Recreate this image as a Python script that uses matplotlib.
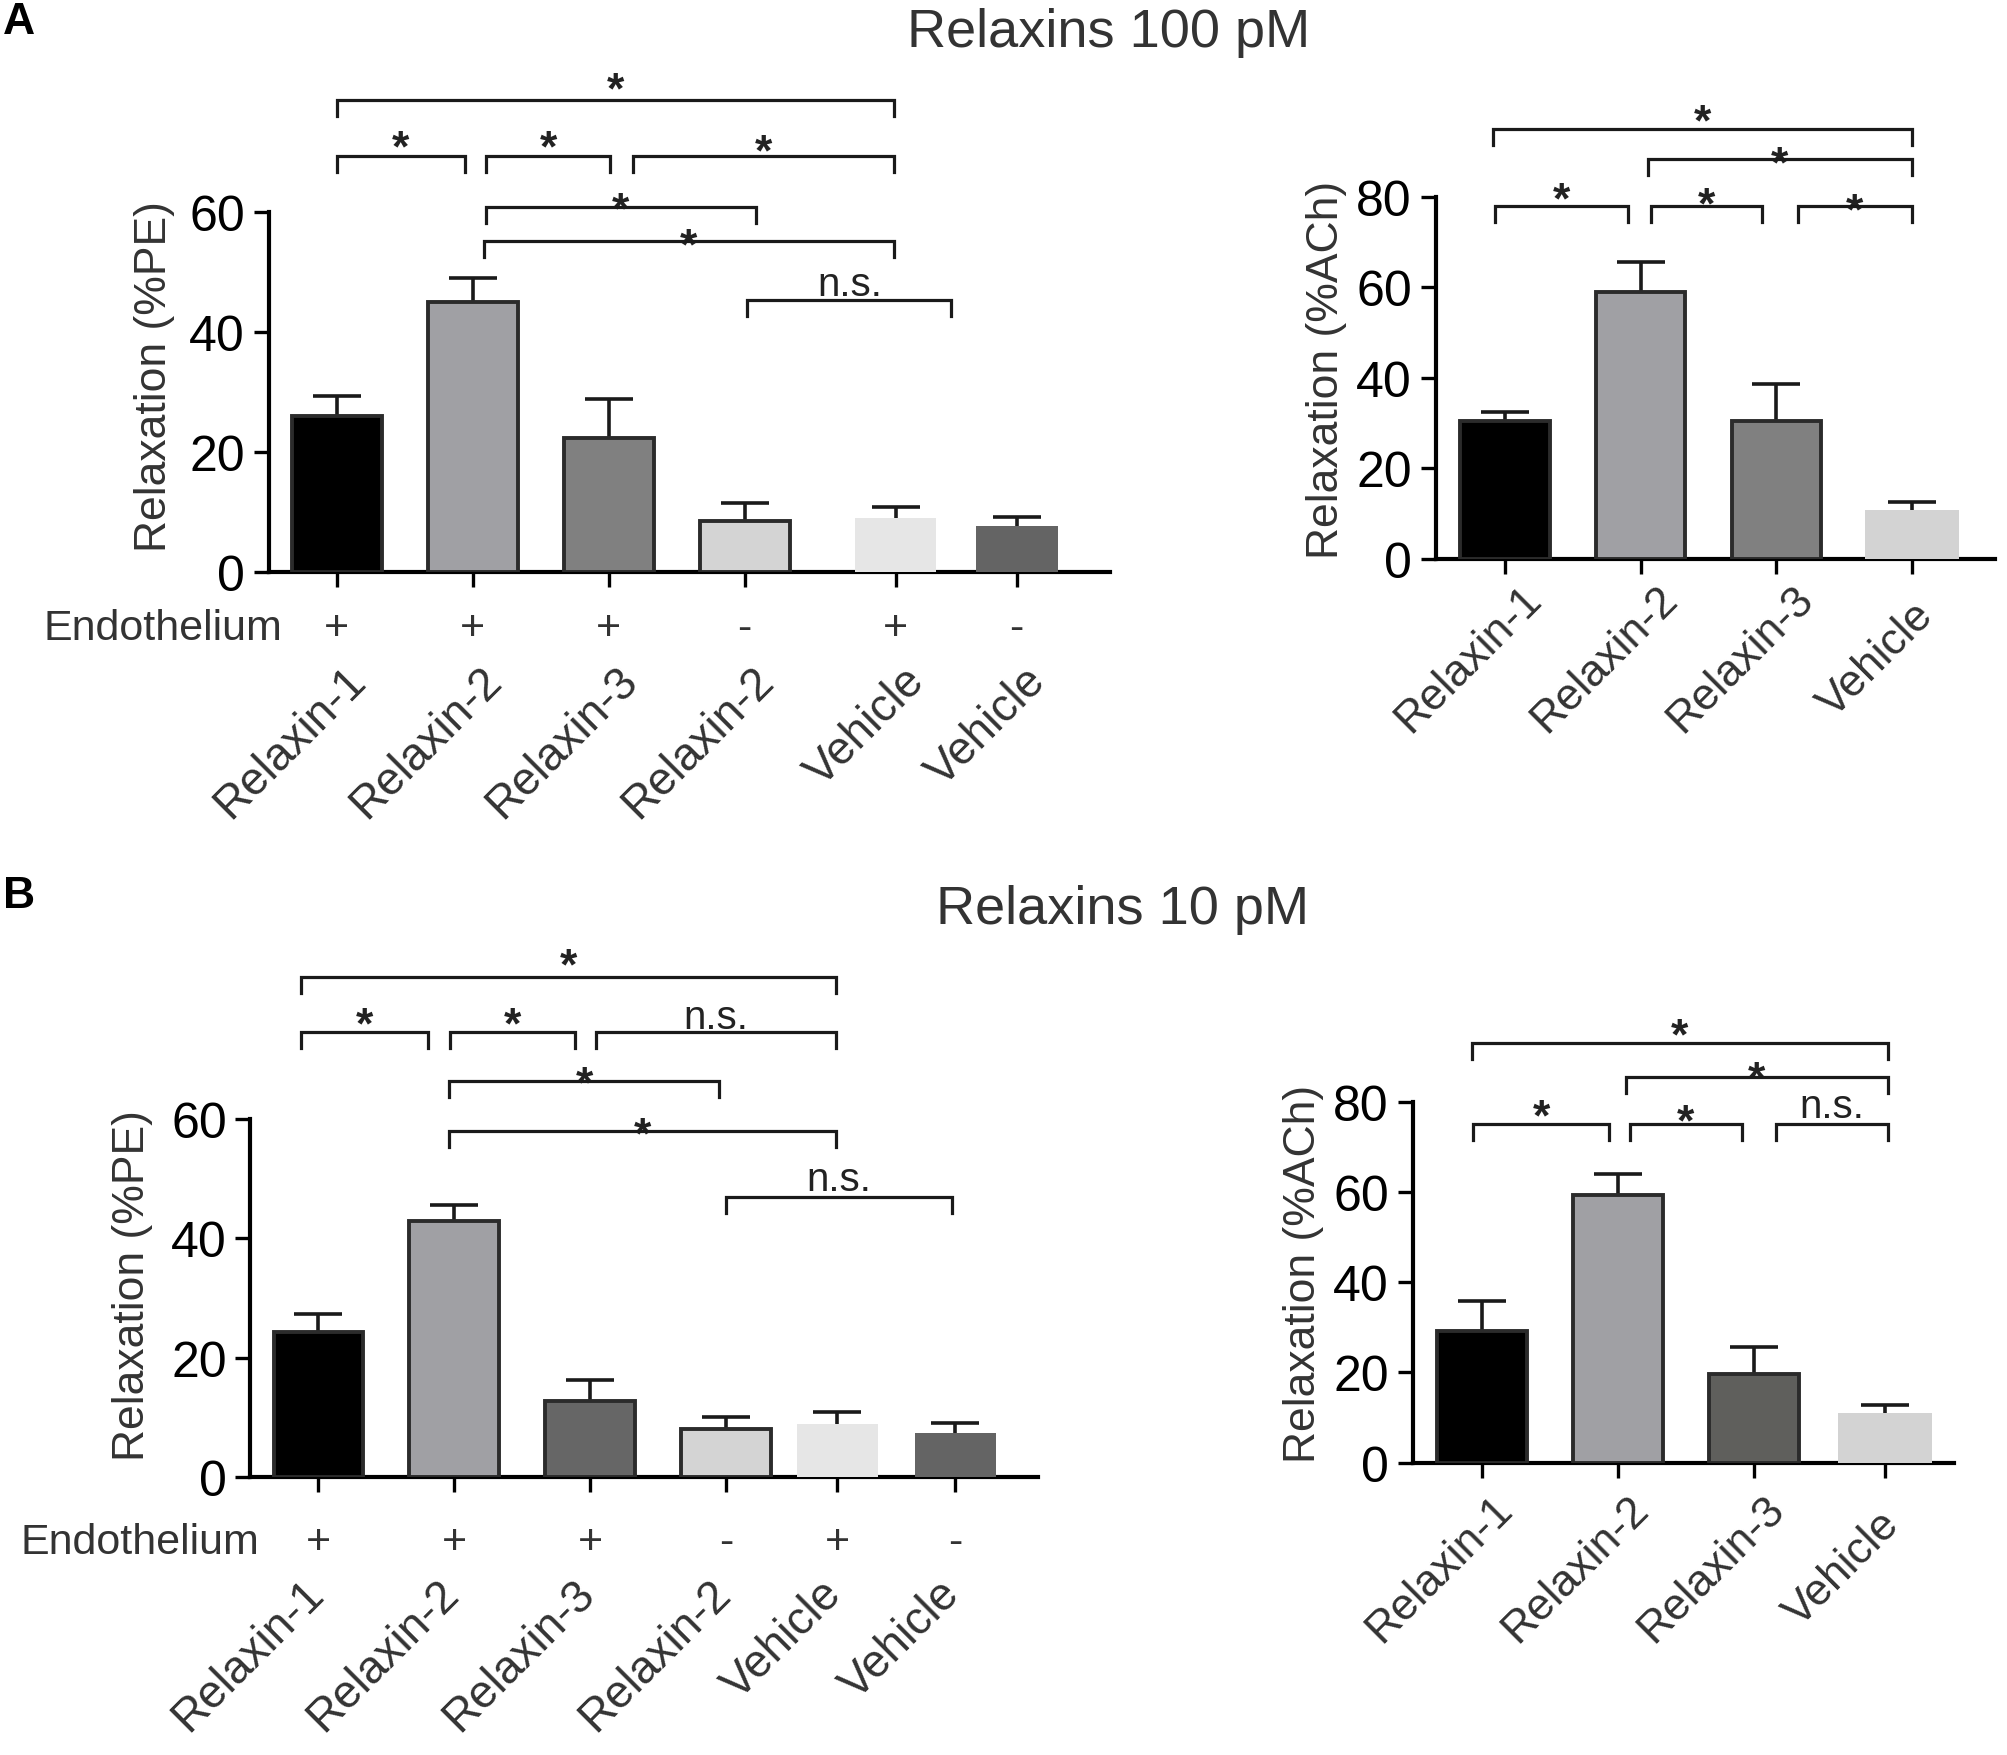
import matplotlib
matplotlib.use("Agg")
import matplotlib.pyplot as plt
from matplotlib.transforms import offset_copy

plt.rcParams['font.family'] = ['Liberation Sans', 'DejaVu Sans']

# ---------------- data ----------------
pe_labels = ["Relaxin-1", "Relaxin-2", "Relaxin-3", "Relaxin-2", "Vehicle", "Vehicle"]
pe_endothelium = ["+", "+", "+", "-", "+", "-"]
ach_labels = ["Relaxin-1", "Relaxin-2", "Relaxin-3", "Vehicle"]

a_pe_mean = [26.0, 44.9, 22.3, 8.4, 8.9, 7.6]
a_pe_sem = [3.3, 4.0, 6.5, 3.0, 1.9, 1.5]
a_ach_mean = [30.4, 58.9, 30.4, 10.7]
a_ach_sem = [2.0, 6.7, 8.3, 1.8]
b_pe_mean = [24.3, 42.9, 12.8, 8.1, 8.9, 7.5]
b_pe_sem = [3.0, 2.7, 3.5, 2.0, 2.1, 1.6]
b_ach_mean = [29.3, 59.4, 19.6, 10.9]
b_ach_sem = [6.6, 4.7, 6.1, 1.9]

# significance brackets: (x_start, x_end, height, label, label offset px)
a_pe_brackets = [(0.0, 4.10, 78.6, "*", 23), (0.0, 0.94, 69.3, "*", 21),
                 (1.10, 2.01, 69.3, "*", 21), (2.18, 4.10, 69.3, "*", 17),
                 (1.10, 3.08, 60.8, "*", 10), (1.08, 4.10, 55.2, "*", 8),
                 (3.02, 4.52, 45.25, "n.s.", 16)]
a_ach_brackets = [(-0.086, 2.996, 95.0, "*", 20), (1.052, 2.996, 88.3, "*", 9),
                  (-0.074, 0.906, 77.9, "*", 20), (1.074, 1.896, 77.9, "*", 15),
                  (2.159, 2.996, 77.9, "*", 9)]
b_pe_brackets = [(-0.125, 3.81, 83.8, "*", 24), (-0.125, 0.81, 74.6, "*", 20),
                 (0.971, 1.89, 74.6, "*", 20), (2.046, 3.81, 74.6, "n.s.", 14),
                 (0.961, 2.95, 66.4, "*", 10), (0.961, 3.81, 58.0, "*", 9),
                 (3.0, 4.665, 47.0, "n.s.", 17)]
b_ach_brackets = [(-0.078, 2.98, 93.2, "*", 20), (1.057, 2.98, 85.6, "*", 11),
                  (-0.066, 0.934, 75.1, "*", 20), (1.084, 1.909, 75.1, "*", 15),
                  (2.163, 2.98, 75.1, "n.s.", 18)]

# ---------------- layout / style ----------------
W, H = 2007, 1756
fig = plt.figure(figsize=(W / 100, H / 100), dpi=100)

TXT = '#333333'
EDGE = '#2b2b2b'

a_pe_x = [0, 1, 2, 3, 4.11, 5.0]
b_pe_x = [0, 1, 2, 3, 3.82, 4.69]
a_ach_x = [0, 1, 2, 3]
b_ach_x = [0, 1, 2, 2.96]

pe_colors_a = ['#000000', '#a0a0a4', '#808080', '#d4d4d4', '#e6e6e6', '#646464']
pe_colors_b = ['#000000', '#a0a0a4', '#666666', '#d4d4d4', '#e6e6e6', '#646464']
pe_edges = [True, True, True, True, False, False]
pe_widths = [0.66, 0.66, 0.66, 0.66, 0.60, 0.60]
ach_colors_a = ['#000000', '#a0a0a4', '#808080', '#d3d3d3']
ach_colors_b = ['#000000', '#a0a0a4', '#5f5f5c', '#d3d3d3']
ach_edges = [True, True, True, False]
ach_widths = [0.66, 0.66, 0.66, 0.69]


def make_axes(left_px, right_px, y0_px, ytop_px):
    return fig.add_axes([left_px / W, 1 - y0_px / H, (right_px - left_px) / W,
                         (y0_px - ytop_px) / H])


def draw_panel(ax, xs, means, sems, colors, edges, widths, xlim, ymax, yticks,
               brackets, ylabel, ylab_pos, ylab_size):
    for x, m, c, e, w in zip(xs, means, colors, edges, widths):
        ax.bar(x, m, width=w, color=c, edgecolor=EDGE if e else c,
               linewidth=2.8 if e else 0, zorder=3)
    lower = [0] * len(means)
    eb = ax.errorbar(xs, means, yerr=[lower, sems], fmt='none', ecolor='#1a1a1a',
                     elinewidth=2.6, capsize=17, capthick=2.6, zorder=2)
    eb[1][0].set_visible(False)
    ax.set_xlim(*xlim)
    ax.set_ylim(0, ymax)
    ax.set_yticks(yticks)
    ax.set_yticklabels([str(t) for t in yticks])
    ax.set_xticks(xs)
    ax.set_xticklabels([])
    for s in ['top', 'right']:
        ax.spines[s].set_visible(False)
    for s in ['left', 'bottom']:
        ax.spines[s].set_linewidth(3)
        ax.spines[s].set_color('black')
    ax.tick_params(axis='both', direction='out', length=11, width=2.4, color='black')
    ax.tick_params(axis='y', labelsize=36, pad=6, labelcolor='black')
    ax.text(ylab_pos[0], ylab_pos[1], ylabel, transform=ax.transAxes, rotation=90,
            ha='center', va='center', fontsize=ylab_size, color=TXT)
    # brackets
    bbox = ax.get_position()
    ppu = bbox.height * H / ymax
    drop = 16 / ppu
    for x1, x2, y, lab, off in brackets:
        ax.plot([x1, x1, x2, x2], [y - drop, y, y, y - drop], color='#1a1a1a',
                lw=2.3, clip_on=False, solid_joinstyle='miter', zorder=4)
        if lab == '*':
            size, gc, wt = 32, 0.575, 'bold'
        else:
            size, gc, wt = 29, 0.26, 'normal'
        em = size / 72 * 100
        off_pt = (off - gc * em) * 0.72
        ax.annotate(lab, xy=((x1 + x2) / 2, y), xytext=(0, off_pt),
                    textcoords='offset points', ha='center', va='baseline',
                    fontsize=size, fontweight=wt, color='#222222',
                    annotation_clip=False)


def cat_labels(ax, xs, labels, mode, dx_px, dy_px, size):
    for x, lab in zip(xs, labels):
        tr = offset_copy(ax.get_xaxis_transform(), fig=fig, x=dx_px * 0.72,
                         y=-dy_px * 0.72, units='points')
        ax.text(x, 0, lab, transform=tr, rotation=45, rotation_mode='anchor',
                ha=mode, va='center', fontsize=size, color=TXT)


def endo_row(ax, xs, signs, dy_px, label_right_px):
    tr = offset_copy(ax.get_xaxis_transform(), fig=fig, x=0, y=-dy_px * 0.72,
                     units='points')
    for x, s in zip(xs, signs):
        ax.text(x, 0, s, transform=tr, ha='center', va='center', fontsize=31,
                color=TXT)
    y_fig = ax.get_position().y0 - dy_px / H
    fig.text(label_right_px / W, y_fig, 'Endothelium', ha='right', va='center',
             fontsize=31, color=TXT)


# ---- Panel A left ----
ax1 = make_axes(268.7, 1110, 572.8, 212.8)
draw_panel(ax1, a_pe_x, a_pe_mean, a_pe_sem, pe_colors_a, pe_edges, pe_widths,
           (-0.5, 5.686), 60, [0, 20, 40, 60], a_pe_brackets,
           'Relaxation (%PE)', (-0.136, 0.545), 32)
cat_labels(ax1, a_pe_x, pe_labels, 'right', 22, 102, 33)
endo_row(ax1, a_pe_x, pe_endothelium, 56, 282)

# ---- Panel A right ----
ax2 = make_axes(1435.5, 1995, 559.7, 198)
draw_panel(ax2, a_ach_x, a_ach_mean, a_ach_sem, ach_colors_a, ach_edges, ach_widths,
           (-0.512, 3.611), 80, [0, 20, 40, 60, 80], a_ach_brackets,
           'Relaxation (%ACh)', (-0.195, 0.5245), 32)
cat_labels(ax2, a_ach_x, ach_labels, 'center', -36, 100, 32)

# ---- Panel B left ----
ax3 = make_axes(250.4, 1038, 1478.4, 1120)
draw_panel(ax3, b_pe_x, b_pe_mean, b_pe_sem, pe_colors_b, pe_edges, pe_widths,
           (-0.501, 5.298), 60, [0, 20, 40, 60], b_pe_brackets,
           'Relaxation (%PE)', (-0.150, 0.537), 32)
cat_labels(ax3, b_pe_x, pe_labels, 'right', -2, 109, 33)
endo_row(ax3, b_pe_x, pe_endothelium, 65, 259)

# ---- Panel B right ----
ax4 = make_axes(1412.6, 1954, 1463.6, 1103.1)
draw_panel(ax4, b_ach_x, b_ach_mean, b_ach_sem, ach_colors_b, ach_edges, ach_widths,
           (-0.512, 3.468), 80, [0, 20, 40, 60, 80], b_ach_brackets,
           'Relaxation (%ACh)', (-0.2015, 0.527), 32)
cat_labels(ax4, b_ach_x, ach_labels, 'center', -43, 106, 32)

# titles and panel letters
fig.text(1109 / W, 1 - 47.5 / H, 'Relaxins 100 pM', ha='center', va='baseline',
         fontsize=39, color=TXT)
fig.text(1123 / W, 1 - 924 / H, 'Relaxins 10 pM', ha='center', va='baseline',
         fontsize=39, color=TXT)
fig.text(19 / W, 1 - 23 / H, 'A', ha='center', va='center', fontsize=32,
         fontweight='bold', color='black')
fig.text(19 / W, 1 - 896 / H, 'B', ha='center', va='center', fontsize=32,
         fontweight='bold', color='black')

fig.savefig('out.png', dpi=100)
